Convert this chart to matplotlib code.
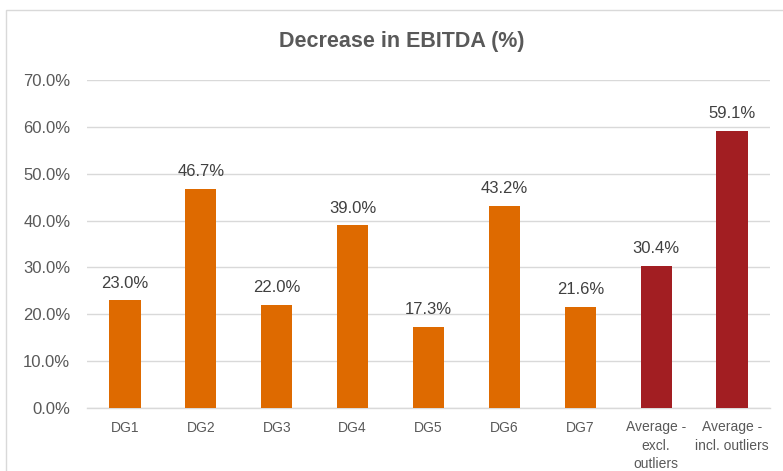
import matplotlib
matplotlib.use("Agg")
import matplotlib.pyplot as plt
from matplotlib.patches import Rectangle
from matplotlib.ticker import FuncFormatter, MultipleLocator

categories = ["DG1", "DG2", "DG3", "DG4", "DG5", "DG6", "DG7",
              "Average -\nexcl.\noutliers", "Average -\nincl. outliers"]
values = [23.0, 46.7, 22.0, 39.0, 17.3, 43.2, 21.6, 30.4, 59.1]
colors = ["#DE6A00"] * 7 + ["#A21E22"] * 2

plt.rcParams['font.family'] = ['Liberation Sans', 'DejaVu Sans']

fig = plt.figure(figsize=(7.83, 4.71), dpi=100)
fig.patches.append(Rectangle((6 / 783, -0.1), 1.2, 1 - 10 / 471 + 0.1,
                             transform=fig.transFigure, fill=False,
                             edgecolor="#D9D9D9", lw=1.0))
ax = fig.add_axes([87 / 783, 1 - 408 / 471, (770 - 87) / 783, (408 - 80) / 471])

x = range(len(categories))
bars = ax.bar(x, values, width=0.41, color=colors, zorder=3)
for xi, v in zip(x, values):
    ax.annotate(f"{v:.1f}%", (xi, v), xytext=(0, 7), textcoords="offset points",
                ha="center", va="bottom", fontsize=12, color="#404040")

ax.set_ylim(0, 70)
ax.set_xlim(-0.5, len(categories) - 0.5)
ax.yaxis.set_major_locator(MultipleLocator(10))
ax.yaxis.set_major_formatter(FuncFormatter(lambda v, p: f"{v:.1f}%"))
ax.grid(axis="y", color="#D9D9D9", lw=1.0, zorder=0)
for s in ["top", "right", "left"]:
    ax.spines[s].set_visible(False)
ax.spines["bottom"].set_color("#D9D9D9")
ax.spines["bottom"].set_linewidth(1.0)
ax.tick_params(axis="both", length=0)
ax.tick_params(axis="y", labelsize=12, labelcolor="#595959", pad=12)
ax.set_xticks(list(x))
ax.set_xticklabels(categories, fontsize=10, color="#595959", linespacing=1.4)
ax.tick_params(axis="x", pad=9)

fig.text(402 / 783, 1 - 42 / 471, "Decrease in EBITDA (%)",
         ha="center", va="center", fontsize=15.5, fontweight="bold", color="#595959")

fig.savefig("out.png", dpi=100)
